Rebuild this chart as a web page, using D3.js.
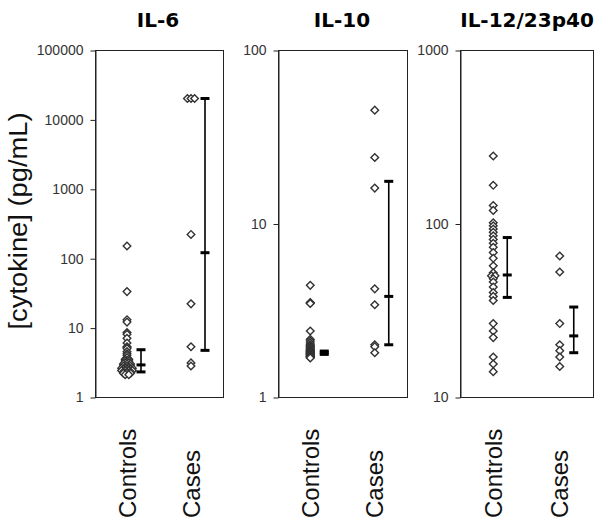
<!DOCTYPE html>
<html>
<head>
<meta charset="utf-8">
<script src="https://cdn.jsdelivr.net/npm/d3@7"></script>
<style>
  html, body { margin: 0; padding: 0; background: #fff; }
  svg { display: block; }
</style>
</head>
<body>
<script>
// ---------------- DATA ----------------
const panelTitles = ["IL-6", "IL-10", "IL-12/23p40"];
const groups = ["Controls", "Cases"];

const il6Ticks = [1, 10, 100, 1000, 10000, 100000];
const il10Ticks = [1, 10, 100];
const il12Ticks = [10, 100, 1000];

const il6Controls = [150, 33, 13, 12, 8.5, 8, 7, 6, 5.3, 5.2, 5, 4.5, 4.2, 4, 3.7, 3.5, 3.5,
  3.3, 3.3, 3.1, 3.1, 3, 3, 3, 2.8, 2.8, 2.8, 2.7, 2.7, 2.6, 2.6, 2.6, 2.6, 2.5, 2.5, 2.5,
  2.4, 2.4, 2.4, 2.4, 2.3, 2.3, 2.3, 2.2, 2.2, 2.2, 2.1, 2.1];
const il6Cases = [20000, 20000, 20000, 220, 22, 5.3, 3.1, 2.8];
const il6ControlsBar = [2.3, 2.9, 4.8];   // [low, middle, high]
const il6CasesBar = [4.7, 120, 20000];

const il10Controls = [4.4, 3.5, 3.48, 3.46, 2.4, 2.15, 2.1, 2.05, 2.0, 1.98, 1.96, 1.94, 1.92,
  1.9, 1.88, 1.86, 1.85, 1.84, 1.83, 1.82, 1.81, 1.8, 1.79, 1.78, 1.77, 1.76, 1.75, 1.74,
  1.73, 1.72, 1.71, 1.7, 1.69, 1.68];
const il10Cases = [45, 24, 16, 4.2, 3.4, 2.0, 1.95, 1.8];
const il10ControlsBar = [1.76, 1.8, 1.84];
const il10CasesBar = [2.0, 3.8, 17.5];

const il12Controls = [245, 166, 127, 119, 101, 97, 93, 89, 85, 81, 77, 73, 68, 63, 57, 52,
  50, 50, 48, 46, 43, 40, 38, 36, 26.5, 24, 22, 17, 15.5, 14];
const il12Cases = [65, 52.5, 26.5, 20, 18.5, 17, 15];
const il12ControlsBar = [37.5, 50.5, 83];
const il12CasesBar = [18, 22.5, 33];

const panelData = [
  { title: panelTitles[0], ticks: il6Ticks, values: [il6Controls, il6Cases], bars: [il6ControlsBar, il6CasesBar] },
  { title: panelTitles[1], ticks: il10Ticks, values: [il10Controls, il10Cases], bars: [il10ControlsBar, il10CasesBar] },
  { title: panelTitles[2], ticks: il12Ticks, values: [il12Controls, il12Cases], bars: [il12ControlsBar, il12CasesBar] }
];

// ---------------- LAYOUT ----------------
const W = 602, H = 527;
const frames = [
  { x0: 95, x1: 223, titleX: 158 },
  { x0: 278, x1: 407, titleX: 342 },
  { x0: 460, x1: 593, titleX: 527 }
];
const yTop = 50, yBot = 397;
const FONT = "Arial, 'Liberation Sans', Helvetica, sans-serif";
const TITLE_FONT = "'DejaVu Sans', Verdana, sans-serif";

const svg = d3.select("body").append("svg").attr("width", W).attr("height", H);
svg.append("rect").attr("width", W).attr("height", H).attr("fill", "#fff");

// Y axis title
svg.append("text")
  .attr("transform", "translate(27,221) rotate(-90)")
  .attr("text-anchor", "middle")
  .attr("font-family", FONT)
  .attr("font-size", 25)
  .attr("textLength", 217)
  .attr("lengthAdjust", "spacingAndGlyphs")
  .attr("fill", "#111")
  .text("[cytokine] (pg/mL)");

panelData.forEach((p, i) => {
  const f = frames[i];
  const y = d3.scaleLog().domain(d3.extent(p.ticks)).range([yBot, yTop]);
  const x = d3.scalePoint().domain(groups).range([f.x0, f.x1]).padding(0.5);
  const g = svg.append("g");

  // Frame
  g.append("rect")
    .attr("x", f.x0 + 0.5).attr("y", yTop + 0.5)
    .attr("width", f.x1 - f.x0).attr("height", yBot - yTop)
    .attr("fill", "none").attr("stroke", "#222").attr("stroke-width", 1);

  // Y axis
  const axis = d3.axisLeft(y).tickValues(p.ticks).tickFormat(d3.format("d"))
    .tickSizeInner(5).tickSizeOuter(0).tickPadding(7);
  const ag = g.append("g").attr("transform", `translate(${f.x0 + 0.5},0.5)`).call(axis);
  ag.select(".domain").attr("stroke", "#222");
  ag.selectAll(".tick line").attr("stroke", "#222");
  ag.selectAll(".tick text").attr("font-family", FONT).attr("font-size", 14).attr("fill", "#333");

  // Title
  g.append("text")
    .attr("x", f.titleX)
    .attr("y", 27)
    .attr("text-anchor", "middle")
    .attr("font-family", TITLE_FONT)
    .attr("font-weight", "bold")
    .attr("font-size", 20)
    .attr("fill", "#000")
    .text(p.title);

  // Points with horizontal dodge for identical values
  const symbol = d3.symbol().type(d3.symbolSquare).size(29);
  groups.forEach((grp, gi) => {
    const vals = p.values[gi];
    const counts = d3.rollup(vals, v => v.length, d => d);
    const seen = new Map();
    const pts = vals.map(v => {
      const n = counts.get(v);
      const k = seen.get(v) || 0;
      seen.set(v, k + 1);
      return { v, off: (k - (n - 1) / 2) * 3.6 };
    });
    g.append("g").selectAll("path").data(pts).join("path")
      .attr("d", symbol)
      .attr("transform", d => `translate(${x(grp) + d.off},${y(d.v)}) rotate(45)`)
      .attr("fill", "#fff")
      .attr("stroke", "#333")
      .attr("stroke-width", 1.4);

    // Error bar
    const b = p.bars[gi];
    const bx = x(grp) + 14;
    const eb = g.append("g");
    eb.append("line")
      .attr("x1", bx).attr("x2", bx)
      .attr("y1", y(b[0])).attr("y2", y(b[2]))
      .attr("stroke", "#000").attr("stroke-width", 1.6);
    eb.selectAll("line.cap").data(b).join("line").attr("class", "cap")
      .attr("x1", bx - 4.5).attr("x2", bx + 4.5)
      .attr("y1", d => y(d)).attr("y2", d => y(d))
      .attr("stroke", "#000").attr("stroke-width", 3);

    // Category label
    g.append("text")
      .attr("transform", `translate(${x(grp) + 8.6},518) rotate(-90)`)
      .attr("text-anchor", "start")
      .attr("font-family", FONT)
      .attr("font-size", 24)
      .attr("fill", "#111")
      .text(grp);
  });
});
</script>
</body>
</html>
